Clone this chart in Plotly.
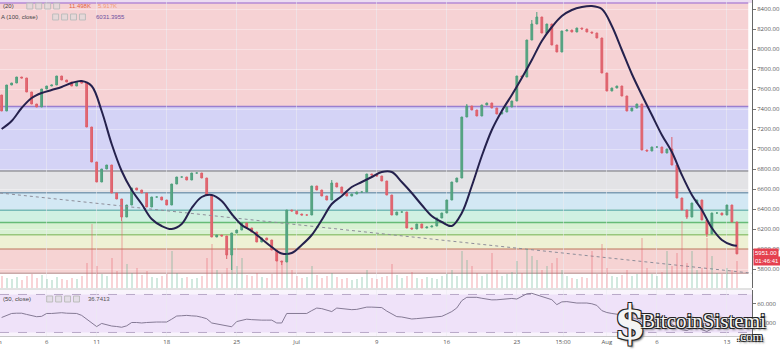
import plotly.graph_objects as go
import pandas as pd

# ---------------- data ----------------
first_open = 7540
closes = [
    7380, 7640, 7660, 7720, 7710, 7570, 7450, 7420, 7600, 7630,
    7640, 7730, 7690, 7670, 7630, 7670, 7660, 7220, 6870, 6670,
    6800, 6840, 6560, 6500, 6320, 6440, 6610, 6590, 6560, 6420,
    6520, 6520, 6490, 6440, 6650, 6720, 6720, 6690, 6760, 6760,
    6710, 6540, 6120, 6140, 6130, 5940, 6160, 6190, 6260, 6210,
    6170, 6070, 6110, 6090, 5990, 5880, 5870, 6390, 6380, 6350,
    6340, 6340, 6630, 6590, 6530, 6490, 6660, 6620, 6560, 6530,
    6550, 6570, 6570, 6750, 6740, 6730, 6680, 6540, 6340, 6370,
    6370, 6210, 6200, 6250, 6210, 6220, 6230, 6310, 6360, 6490,
    6670, 6710, 7320, 7430, 7390, 7330, 7440, 7460, 7410, 7350,
    7370, 7420, 7480, 7730, 7720, 8090, 8250, 8320, 8160, 8250,
    8040, 7970, 8180, 8190, 8170, 8210, 8200, 8170, 8160, 8110,
    7760, 7580, 7610, 7630, 7530, 7380, 7410, 7450, 6990, 6980,
    7020, 7020, 6960, 7000, 6840, 6510, 6390, 6320, 6460, 6490,
    6290, 6150, 6360, 6360, 6340, 6440, 6270, 5951,
]
wick_high = {93: 7450, 106: 8290, 107: 8370, 134: 7120, 66: 6690}
wick_low = {24: 6280, 45: 5900, 46: 5790, 56: 5840, 137: 6300, 141: 6120}

volumes = [
    12, 10, 9, 11, 8, 12, 14, 10, 13, 9,
    8, 11, 9, 8, 10, 9, 12, 25, 64, 22,
    14, 12, 30, 17, 67, 24, 15, 20, 13, 17,
    11, 10, 12, 14, 37, 15, 10, 11, 9, 10,
    12, 30, 44, 18, 14, 20, 54, 22, 30, 13,
    12, 15, 11, 10, 14, 34, 25, 60, 18, 12,
    10, 11, 22, 13, 10, 12, 15, 11, 9, 10,
    8, 9, 11, 18, 10, 9, 11, 12, 24, 13,
    10, 12, 16, 10, 9, 11, 10, 9, 12, 14,
    18, 12, 37, 28, 22, 15, 12, 14, 35, 18,
    12, 14, 16, 27, 15, 39, 32, 28, 18, 22,
    25, 30, 18, 12, 10, 9, 11, 10, 37, 14,
    44, 20, 12, 11, 13, 18, 12, 14, 50, 20,
    14, 12, 16, 37, 22, 35, 67, 25, 37, 18,
    20, 50, 32, 15, 14, 20, 18, 27,
]

ma_daily = [
    7200, 7280, 7410, 7510, 7560, 7590, 7620, 7660, 7680, 7630,
    7380, 7050, 6780, 6590, 6450, 6300, 6230, 6200, 6250, 6410,
    6520, 6540, 6480, 6350, 6240, 6180, 6100, 6020, 5955, 5960,
    6040, 6140, 6290, 6450, 6530, 6620, 6670, 6720, 6770, 6770,
    6670, 6560, 6440, 6330, 6270, 6230, 6360, 6630, 6930, 7190,
    7380, 7540, 7710, 7890, 8080, 8220, 8330, 8390, 8420, 8430,
    8400, 8230, 7990, 7750, 7540, 7340, 7140, 6970, 6740, 6540,
    6390, 6210, 6090, 6040,
]
ma_last = 6031.3955

rsi = [
    45.8, 48, 50, 50.3, 50.3, 49, 47.6, 46.6, 47, 50,
    50, 50.5, 50.8, 50.3, 50, 50, 48, 44, 40, 36.2,
    39.5, 38, 36.8, 36.3, 35.5, 37, 40.5, 40.5, 40, 40.5,
    41, 41, 41, 41, 44, 47.3, 47.6, 48, 47.5, 47.2,
    46, 44.5, 40, 39, 38, 37.3, 36, 41.5, 43, 44,
    43.5, 43, 43, 43, 43, 40, 40, 50, 50, 50,
    50, 50, 53, 55.7, 55.1, 53.5, 52, 55.7, 55, 54.2,
    54, 54.3, 55.5, 56.7, 56.7, 56.4, 56.2, 52.5, 49.5, 46.7,
    46.3, 45.3, 44.2, 44.6, 45.1, 45.5, 45.8, 46.3, 47, 49.4,
    52, 55.8, 63.5, 67, 67, 67, 66, 65.2, 64.3, 64.4,
    64.8, 65.3, 65.8, 65.2, 68.2, 70.7, 71.2, 69.4, 67.6, 65.9,
    64.5, 59.3, 62.2, 62.5, 61.7, 61, 61, 61, 60.2, 58.5,
    53, 51, 50, 49.5, 48.5, 47.5, 46, 44, 40.5, 40.5,
    41, 41, 40.5, 40.3, 39, 35, 33, 32, 34.5, 36,
    33, 31, 34, 35.3, 36.2, 37.5, 38, 36.7413,
]

trend_dates = ["2018-06-01 08:06", "2018-08-15 12:14"]
trend_prices = [6560, 5758]

fib_levels = [8460, 7425, 6780, 6563, 6390, 6265, 6142, 5998, 5758]
band_colors = ["#f6d2d4", "#d4d3f6", "#e3e3e6", "#d3e8f4", "#d0f0e2",
               "#d9f1d3", "#eef1d4", "#f6d3d3"]
line_colors = ["#b48ad6", "#9a7fd0", "#9a9a9e", "#7f9db4", "#5aa8a8",
               "#66bb77", "#98c77c", "#c0755f", "#c9a9a9"]

tick_dates = ["2018-06-06", "2018-06-11", "2018-06-18", "2018-06-25", "2018-07-01",
              "2018-07-09", "2018-07-16", "2018-07-23", "2018-07-27 15:00",
              "2018-08-01", "2018-08-06", "2018-08-13"]
tick_text = ["6", "11", "18", "25", "Jul", "9", "16", "23", "15:00", "Aug", "6", "13"]
price_ticks = [5800, 6000, 6200, 6400, 6600, 6800, 7000, 7200, 7400, 7600, 7800, 8000, 8200, 8400]

# ---------------- derived ----------------
times = pd.date_range("2018-06-01 12:00", periods=len(closes), freq="12h")
opens = [first_open] + closes[:-1]
highs = [max(o, c) for o, c in zip(opens, closes)]
lows = [min(o, c) for o, c in zip(opens, closes)]
for k, v in wick_high.items():
    highs[k] = v
for k, v in wick_low.items():
    lows[k] = v
vol_colors = ["rgba(83,170,130,0.26)" if c >= o else "rgba(230,90,100,0.26)"
              for o, c in zip(opens, closes)]
ma_times = list(pd.date_range("2018-06-01 12:00", periods=len(ma_daily), freq="D")) + \
    [pd.Timestamp("2018-08-14 00:00")]
ma_vals = ma_daily + [ma_last]

W, H = 780, 351
PW, PH = 757, 336


def py(p):
    return (PH - p) / PH


def px(p):
    return p / PW


fig = go.Figure()

fig.add_trace(go.Bar(x=times, y=volumes, yaxis="y3", marker=dict(color=vol_colors, line=dict(width=0)),
                     width=0.45 * 12 * 3600 * 1000, showlegend=False, hoverinfo="skip"))
fig.add_trace(go.Scatter(x=trend_dates, y=trend_prices, mode="lines", yaxis="y",
                         line=dict(color="#8e8e9a", width=1, dash="dot"), showlegend=False))
fig.add_trace(go.Candlestick(x=times, open=opens, high=highs, low=lows, close=closes,
                             increasing=dict(line=dict(color="#4f9f7c", width=1), fillcolor="#5aa886"),
                             decreasing=dict(line=dict(color="#de5f6a", width=1), fillcolor="#e36a74"),
                             whiskerwidth=0, showlegend=False))
fig.add_trace(go.Scatter(x=ma_times, y=ma_vals, mode="lines", yaxis="y",
                         line=dict(color="#25214d", width=2, shape="spline", smoothing=1.0),
                         showlegend=False))
fig.add_trace(go.Scatter(x=times, y=rsi, mode="lines", yaxis="y2",
                         line=dict(color="#857a95", width=1), showlegend=False))

shapes = []
# top strip
shapes.append(dict(type="rect", xref="x domain", yref="y", x0=0, x1=1, y0=fib_levels[0], y1=8490,
                   fillcolor="#ecdcf2", line=dict(width=0), layer="below"))
for i in range(len(fib_levels) - 1):
    shapes.append(dict(type="rect", xref="x domain", yref="y", x0=0, x1=0.995,
                       y0=fib_levels[i + 1], y1=fib_levels[i],
                       fillcolor=band_colors[i], line=dict(width=0), layer="below"))
for lv, col in zip(fib_levels, line_colors):
    shapes.append(dict(type="line", xref="x domain", yref="y", x0=0, x1=0.995, y0=lv, y1=lv,
                       line=dict(color=col, width=1.5), layer="below"))
# RSI panel
shapes.append(dict(type="rect", xref="x domain", yref="y2", x0=0, x1=1, y0=26.3, y1=74.7,
                   fillcolor="#f9f4fc", line=dict(width=0), layer="below"))
shapes.append(dict(type="rect", xref="x domain", yref="y2", x0=0, x1=1, y0=30, y1=70,
                   fillcolor="#efe2f9", line=dict(width=0), layer="below"))
for lv in (30, 70):
    shapes.append(dict(type="line", xref="x domain", yref="y2", x0=0, x1=1, y0=lv, y1=lv,
                       line=dict(color="#b9a8c8", width=1, dash="dash"), layer="below"))
# separator between panes
shapes.append(dict(type="line", xref="paper", yref="paper", x0=0, x1=1, y0=py(289), y1=py(289),
                   line=dict(color="#c4c4c4", width=1)))
# legend icon squares
for (x0, yc) in [(27, 6), (53, 17), (47, 299)]:
    for j in range(4):
        shapes.append(dict(type="rect", xref="paper", yref="paper",
                           x0=px(x0 + 9 * j), x1=px(x0 + 9 * j + 6),
                           y0=py(yc + 3), y1=py(yc - 3),
                           fillcolor="rgba(220,220,220,0.6)", line=dict(color="#bdbdbd", width=1)))

ann = []


def txt(x, y, s, color, size=6, xanchor="left", **kw):
    ann.append(dict(x=px(x), y=py(y), xref="paper", yref="paper", text=s, showarrow=False,
                    xanchor=xanchor, yanchor="middle", font=dict(size=size, color=color,
                                                                 family="Arial, Liberation Sans"), **kw))


txt(1, 6, "(20)", "#444")
txt(67, 6, "11.498K", "#e2623f")
txt(97, 6, "5.917K", "#f09a7a")
txt(-1, 17, "A (100, close)", "#444")
txt(95, 17, "6031.3955", "#6c4fa0")
txt(1, 299, "(50, close)", "#444")
txt(87, 299, "36.7413", "#555")
txt(-3.4, 342, "Jun", "#555", xanchor="center")

# last price labels
ann.append(dict(x=px(758), y=py(253), xref="paper", yref="paper", text="5951.00", showarrow=False,
                xanchor="left", yanchor="middle", bgcolor="#e5404f", borderpad=1,
                font=dict(size=6, color="white", family="Arial, Liberation Sans")))
ann.append(dict(x=px(758), y=py(261), xref="paper", yref="paper", text="01:46:41", showarrow=False,
                xanchor="left", yanchor="middle", bgcolor="#e5404f", borderpad=1,
                font=dict(size=6, color="white", family="Arial, Liberation Sans")))

# watermark
outline = "1px 1px 0 #222, -1px -1px 0 #222, 1px -1px 0 #222, -1px 1px 0 #222, 2px 2px 2px #777"
ann.append(dict(x=px(634), y=py(323), xref="paper", yref="paper", text="<b>$</b>", showarrow=False,
                xanchor="center", yanchor="middle",
                font=dict(size=46, color="#f4f4f4", family="DejaVu Serif", shadow=outline)))
ann.append(dict(x=px(708), y=py(321), xref="paper", yref="paper", text="BitcoinSistemi", showarrow=False,
                xanchor="center", yanchor="middle",
                font=dict(size=21, color="#f4f4f4", family="Liberation Serif", shadow=outline)))
ann.append(dict(x=px(755), y=py(336), xref="paper", yref="paper", text=".com", showarrow=False,
                xanchor="center", yanchor="middle",
                font=dict(size=13, color="#f4f4f4", family="Liberation Serif", shadow=outline)))

fig.update_layout(
    width=W, height=H, margin=dict(l=0, r=W - PW, t=0, b=H - PH),
    paper_bgcolor="white", plot_bgcolor="white", boxgap=0.5,
    showlegend=False, shapes=shapes, annotations=ann, bargap=0,
    xaxis=dict(type="date", range=["2018-06-01 08:06", "2018-08-15 12:14"], domain=[0, 1],
               anchor="y2", tickvals=tick_dates, ticktext=tick_text, ticks="",
               tickfont=dict(size=6, color="#555"), showgrid=True,
               gridcolor="rgba(235,235,240,0.55)", gridwidth=1, showline=True,
               linecolor="#c8c8c8", zeroline=False, rangeslider=dict(visible=False)),
    yaxis=dict(domain=[py(288), 1], range=[5610, 8490], side="right", anchor="x",
               tickvals=price_ticks, tickformat=".2f", tickfont=dict(size=6, color="#555"),
               ticks="outside", ticklen=3, tickcolor="#777", showline=True, linecolor="#666",
               showgrid=True, gridcolor="rgba(255,255,255,0.35)", zeroline=False),
    yaxis3=dict(overlaying="y", range=[0, 288], visible=False),
    yaxis2=dict(domain=[0, py(290)], range=[26.3, 74.7], side="right", anchor="x",
                tickvals=[40, 60], tickformat=".3f", tickfont=dict(size=6, color="#555"),
                ticks="outside", ticklen=3, tickcolor="#777", showline=True, linecolor="#666",
                showgrid=False, zeroline=False),
)

fig.write_html("out.html")
